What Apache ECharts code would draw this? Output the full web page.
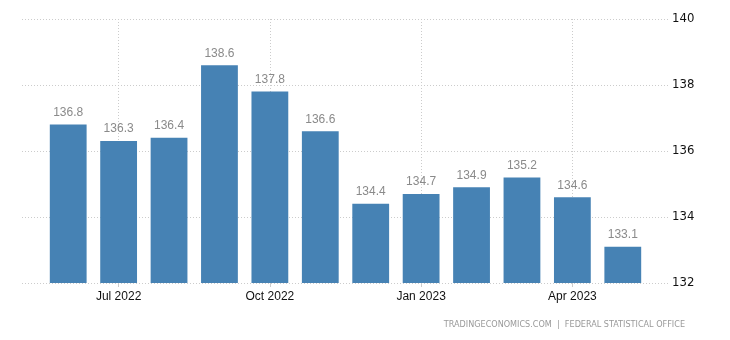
<!DOCTYPE html>
<html>
<head>
<meta charset="utf-8">
<script src="https://cdn.jsdelivr.net/npm/echarts@6/dist/echarts.min.js"></script>
<style>html,body{margin:0;padding:0;background:#fff}#c{width:730px;height:340px}</style>
</head>
<body>
<div id="c"></div>
<script>
const categories = ['Jun 2022','Jul 2022','Aug 2022','Sep 2022','Oct 2022','Nov 2022','Dec 2022','Jan 2023','Feb 2023','Mar 2023','Apr 2023','May 2023'];
const values = [136.8, 136.3, 136.4, 138.6, 137.8, 136.6, 134.4, 134.7, 134.9, 135.2, 134.6, 133.1];
const yTicks = [132, 134, 136, 138, 140];
const sourceText = 'TRADINGECONOMICS.COM  |  FEDERAL STATISTICAL OFFICE';

const chart = echarts.init(document.getElementById('c'), null, {renderer: 'canvas'});
const font = 'Liberation Sans, Arial, sans-serif';
const narrow = '"Liberation Sans Narrow", "Arial Narrow", "DejaVu Sans Condensed", sans-serif';
const showIdx = (i) => i % 3 === 1;
chart.setOption({
  animation: false,
  grid: [
    {left: 22, right: 62, top: 19, bottom: 57},
    {left: 43, right: 82, top: 19, bottom: 57}
  ],
  xAxis: [
    {gridIndex: 0, type: 'value', show: false, min: 0, max: 1},
    {gridIndex: 1, type: 'category', data: categories,
      axisLine: {show: false},
      axisTick: {show: true, alignWithLabel: true, interval: (i) => showIdx(i), length: 4, lineStyle: {color: '#ccc'}},
      axisLabel: {interval: (i) => showIdx(i), color: '#111', fontSize: 12, fontFamily: font, margin: 8},
      splitLine: {show: true, alignWithLabel: true, interval: (i) => showIdx(i), lineStyle: {color: '#ccc', type: [1, 2], width: 1}}
    }
  ],
  yAxis: [
    {gridIndex: 0, type: 'value', position: 'right', min: yTicks[0], max: yTicks[yTicks.length-1], interval: 2,
      axisLine: {show: false}, axisTick: {show: false},
      axisLabel: {color: '#111', fontSize: 13, fontFamily: narrow, margin: 4},
      splitLine: {show: true, lineStyle: {color: '#ccc', type: [1, 2], width: 1}}
    },
    {gridIndex: 1, type: 'value', show: false, min: yTicks[0], max: yTicks[yTicks.length-1], splitLine: {show: false}}
  ],
  series: [{
    type: 'bar', xAxisIndex: 1, yAxisIndex: 1, data: values,
    barCategoryGap: '27%',
    itemStyle: {color: '#4682B4'},
    label: {show: true, position: 'top', distance: 6, color: '#8a8a8a', fontSize: 12, fontFamily: font,
      formatter: (p) => p.value.toFixed(1)}
  }],
  graphic: [{
    type: 'text', right: 45, top: 320,
    style: {text: sourceText, fill: '#999', font: '9px ' + narrow}
  }]
});
</script>
</body>
</html>
